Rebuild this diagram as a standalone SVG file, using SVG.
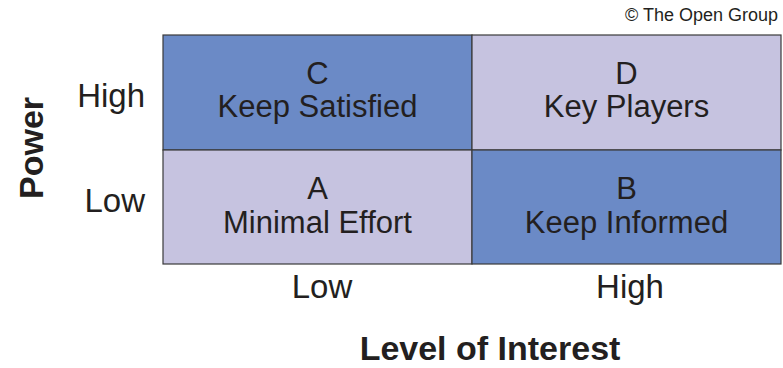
<svg xmlns="http://www.w3.org/2000/svg" width="783" height="368" viewBox="0 0 783 368">
<style>
text{font-family:"Liberation Sans",Arial,sans-serif;fill:#231f20}
.cell{stroke:#3a3a3a;stroke-width:1.2}
.dark{fill:#6b8ac6}
.light{fill:#c6c3e0}
.q{font-size:31px;text-anchor:middle}
.ax{font-size:33px}
.b{font-size:34px;font-weight:bold}
</style>
<rect width="783" height="368" fill="#fff"/>
<text x="778" y="21" font-size="18" text-anchor="end" fill="#333">© The Open Group</text>
<g id="C"><rect class="cell dark" x="163" y="35" width="309" height="115"/><text class="q" x="317.5" y="84">C</text><text class="q" x="317.5" y="117">Keep Satisfied</text></g>
<g id="D"><rect class="cell light" x="472" y="35" width="309" height="115"/><text class="q" x="626.5" y="84">D</text><text class="q" x="626.5" y="117">Key Players</text></g>
<g id="A"><rect class="cell light" x="163" y="150" width="309" height="114"/><text class="q" x="317.5" y="199">A</text><text class="q" x="317.5" y="233">Minimal Effort</text></g>
<g id="B"><rect class="cell dark" x="472" y="150" width="309" height="114"/><text class="q" x="626.5" y="199">B</text><text class="q" x="626.5" y="233">Keep Informed</text></g>
<g id="connectors"></g>
<text class="ax" x="145" y="107" text-anchor="end">High</text>
<text class="ax" x="145" y="212" text-anchor="end">Low</text>
<text class="ax" x="322" y="298" text-anchor="middle">Low</text>
<text class="ax" x="630" y="298" text-anchor="middle">High</text>
<text class="b" x="490" y="360" text-anchor="middle">Level of Interest</text>
<text class="b" transform="translate(43,148) rotate(-90)" text-anchor="middle">Power</text>
</svg>
